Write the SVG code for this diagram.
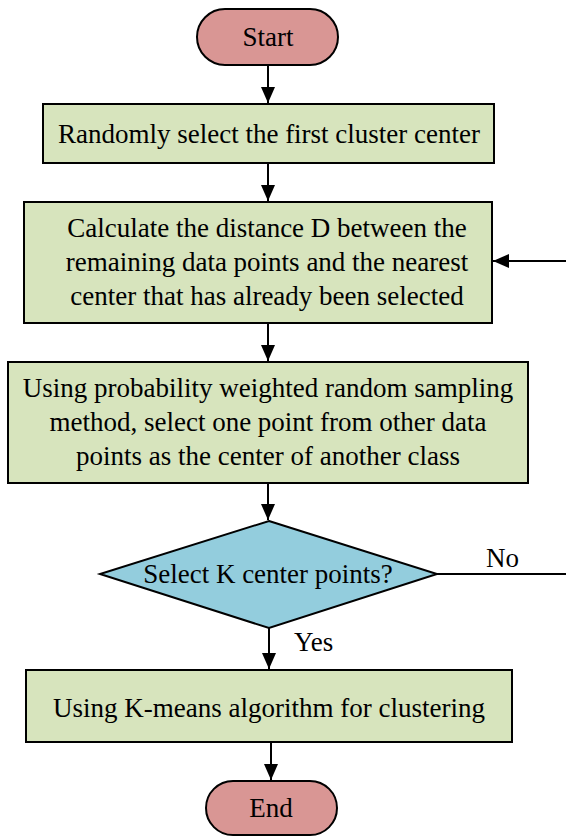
<svg xmlns="http://www.w3.org/2000/svg" width="566" height="836" viewBox="0 0 566 836">
<style>
.term{fill:#D99694;stroke:#000;stroke-width:2}
.proc{fill:#D7E4BD;stroke:#000;stroke-width:2}
.dec{fill:#93CDDD;stroke:#000;stroke-width:2}
.t{font-family:"Liberation Serif","Times New Roman",serif;font-size:27px;fill:#000;text-anchor:middle}
.lbl{font-family:"Liberation Serif","Times New Roman",serif;font-size:27px;fill:#000}
.c{fill:none;stroke:#000;stroke-width:2}
</style>
<defs>
<marker id="ah" viewBox="0 0 16 14" refX="16" refY="7" markerWidth="16" markerHeight="14" markerUnits="userSpaceOnUse" orient="auto">
<path d="M0,0 L16,7 L0,14 Z" fill="#000"/>
</marker>
</defs>
<rect width="566" height="836" fill="#fff"/>
<g id="connectors">
<path class="c" d="M268,65 V103" marker-end="url(#ah)"/>
<path class="c" d="M268,163 V201" marker-end="url(#ah)"/>
<path class="c" d="M268,323 V361" marker-end="url(#ah)"/>
<path class="c" d="M268,483 V520" marker-end="url(#ah)"/>
<path class="c" d="M269,628 V669" marker-end="url(#ah)"/>
<path class="c" d="M271,742 V780" marker-end="url(#ah)"/>
<path class="c" d="M437,574 H570 V261 H493" marker-end="url(#ah)"/>
<text class="lbl" x="486" y="567">No</text>
<text class="lbl" x="294" y="651">Yes</text>
</g>
<g id="start">
<rect class="term" x="197" y="9" width="141" height="56" rx="28"/>
<text class="t" x="268" y="46">Start</text>
</g>
<g id="step1">
<rect class="proc" x="43" y="104" width="451" height="59"/>
<text class="t" x="269" y="143">Randomly select the first cluster center</text>
</g>
<g id="step2">
<rect class="proc" x="24" y="202" width="468" height="121"/>
<text class="t" x="267" y="237">Calculate the distance D between the</text>
<text class="t" x="267" y="271">remaining data points and the nearest</text>
<text class="t" x="267" y="305">center that has already been selected</text>
</g>
<g id="step3">
<rect class="proc" x="8" y="362" width="520" height="121"/>
<text class="t" x="268" y="397">Using probability weighted random sampling</text>
<text class="t" x="268" y="431">method, select one point from other data</text>
<text class="t" x="268" y="465">points as the center of another class</text>
</g>
<g id="decision">
<polygon class="dec" points="269,521 437,574 269,628 100,574"/>
<text class="t" x="268" y="583">Select K center points?</text>
</g>
<g id="step4">
<rect class="proc" x="26" y="670" width="486" height="72"/>
<text class="t" x="269" y="717">Using K-means algorithm for clustering</text>
</g>
<g id="end">
<rect class="term" x="206" y="781" width="131" height="54" rx="27"/>
<text class="t" x="271" y="817">End</text>
</g>
</svg>
